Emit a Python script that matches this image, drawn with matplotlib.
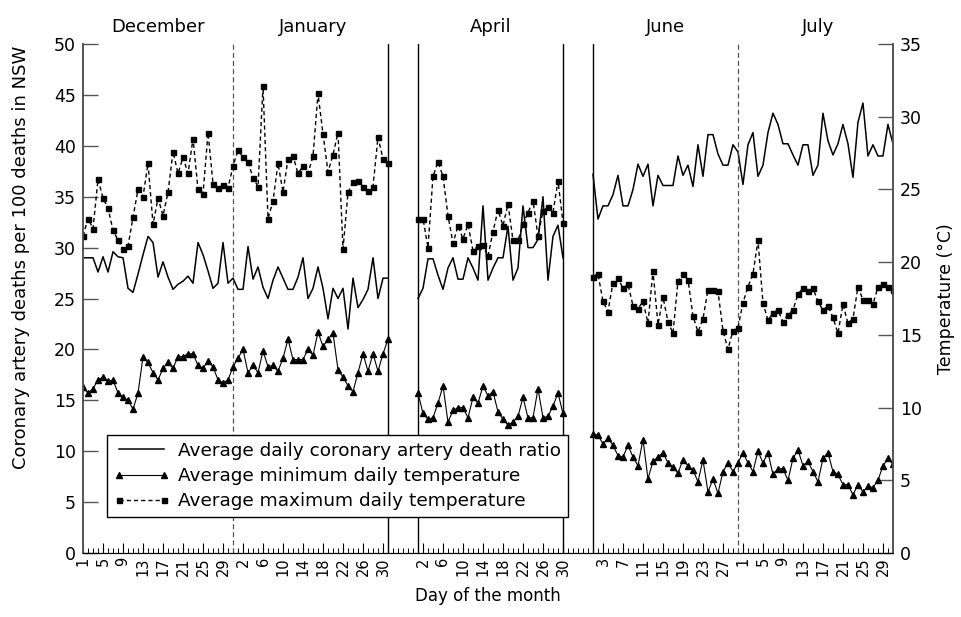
import numpy as np
import matplotlib.pyplot as plt
from matplotlib.lines import Line2D

plt.rcParams['font.family'] = ['DejaVu Sans']

months = ['December', 'January', 'April', 'June', 'July']
month_days = [31, 31, 30, 30, 31]
# where day 1 of each month sits on the shared day axis
month_start = [0, 31, 67, 102, 132]
# label days under each month
tick_days = [
    list(range(1, 30, 4)),
    list(range(2, 31, 4)),
    list(range(2, 31, 4)),
    list(range(3, 28, 4)),
    list(range(1, 30, 4)),
]

# coronary artery deaths per 100 deaths (left axis)
ratio_dec_jan = [29.0, 29.0, 29.0, 27.6, 29.1, 27.6, 29.6, 29.1, 29.0, 26.0,
                 25.6, 27.4, 29.3, 31.1, 30.5, 27.1, 28.6, 27.1, 25.9, 26.4,
                 26.7, 27.2, 26.5, 30.5, 29.3, 27.7, 26.0, 26.5, 30.5, 26.5,
                 27.0, 25.9, 25.9, 30.1, 26.9, 28.1, 26.1, 25.0, 26.8, 28.1,
                 27.0, 25.9, 25.9, 27.1, 29.0, 25.0, 26.0, 28.1, 26.0, 23.0,
                 26.0, 25.0, 26.0, 22.0, 27.0, 24.1, 24.9, 25.9, 29.0, 25.0,
                 27.0, 27.0]
ratio_apr = [25.0, 26.0, 28.9, 28.9, 27.3, 25.9, 28.0, 29.0, 26.9, 26.9,
             29.0, 28.0, 26.8, 34.1, 26.8, 28.0, 29.0, 29.0, 32.1, 26.8,
             28.0, 34.1, 30.0, 30.0, 30.8, 35.0, 26.8, 31.1, 32.2, 29.0]
ratio_jun_jul = [37.2, 32.8, 34.1, 34.1, 35.2, 37.1, 34.1, 34.1, 35.7, 38.2,
                 37.0, 38.2, 34.1, 37.1, 36.1, 36.1, 36.1, 39.0, 37.1, 38.1,
                 36.0, 40.1, 37.0, 41.1, 41.1, 39.2, 38.1, 38.1, 40.1, 39.4,
                 36.2, 40.1, 41.3, 37.0, 38.1, 41.3, 43.2, 42.1, 40.2, 40.2,
                 39.1, 38.1, 40.1, 40.1, 37.1, 38.1, 43.2, 40.5, 39.1, 40.2,
                 42.1, 40.2, 36.9, 42.3, 44.2, 39.0, 40.1, 39.0, 39.0, 42.1,
                 40.2]

# average minimum daily temperature, deg C (right axis)
tmin_dec_jan = [11.4, 11.0, 11.3, 11.9, 12.1, 11.8, 11.9, 11.0, 10.7, 10.5,
                9.9, 11.0, 13.5, 13.1, 12.4, 11.9, 12.7, 13.1, 12.7, 13.5,
                13.5, 13.7, 13.7, 12.9, 12.7, 13.2, 12.8, 11.9, 11.7, 11.9,
                12.8, 13.4, 14.0, 12.4, 12.9, 12.4, 13.9, 12.8, 12.9, 12.5,
                13.4, 14.7, 13.3, 13.3, 13.3, 14.0, 13.6, 15.2, 14.2, 14.7,
                15.1, 12.6, 12.1, 11.5, 11.1, 12.4, 13.7, 12.5, 13.7, 12.5,
                13.7, 14.7]
tmin_apr = [11.0, 9.6, 9.2, 9.3, 10.3, 11.5, 9.0, 9.8, 10.0, 10.0,
            9.3, 10.7, 10.3, 11.5, 10.8, 11.1, 9.7, 9.2, 8.8, 9.0,
            9.4, 10.7, 9.3, 9.3, 11.3, 9.3, 9.4, 10.1, 11.0, 9.6]
tmin_jun_jul = [8.2, 8.1, 7.5, 7.9, 7.4, 6.7, 6.6, 7.4, 6.6, 6.0,
                7.8, 5.1, 6.3, 6.6, 6.9, 6.2, 5.9, 5.5, 6.4, 6.0,
                5.7, 4.9, 6.4, 4.2, 5.1, 4.1, 5.6, 6.2, 5.6, 6.2,
                6.9, 6.2, 5.6, 7.0, 6.2, 6.9, 5.4, 5.8, 5.8, 5.0,
                6.5, 7.1, 6.0, 6.3, 5.6, 4.9, 6.5, 6.9, 5.6, 5.4,
                4.7, 4.7, 4.0, 4.7, 4.2, 4.6, 4.5, 5.0, 6.0, 6.5,
                6.1]

# average maximum daily temperature, deg C (right axis)
tmax_dec_jan = [21.8, 23.0, 22.3, 25.7, 24.4, 23.7, 22.2, 21.5, 20.9, 21.1,
                23.1, 25.0, 24.5, 26.8, 22.6, 24.4, 23.2, 24.8, 27.6, 26.1,
                27.2, 26.1, 28.5, 25.0, 24.7, 28.9, 25.4, 25.1, 25.3, 25.1,
                26.6, 27.7, 27.2, 26.9, 25.8, 25.2, 32.1, 23.0, 24.2, 26.8,
                24.8, 27.1, 27.3, 26.1, 26.6, 26.1, 27.3, 31.6, 28.8, 26.2,
                27.4, 28.9, 20.9, 24.8, 25.5, 25.6, 25.2, 24.9, 25.2, 28.6,
                27.1, 26.8]
tmax_apr = [23.0, 23.0, 21.0, 25.9, 26.9, 25.9, 23.2, 21.3, 22.5, 21.6,
            22.6, 20.8, 21.1, 21.2, 20.4, 22.1, 23.6, 22.5, 24.0, 21.5,
            21.5, 22.6, 23.4, 24.2, 21.8, 23.5, 23.8, 23.4, 25.6, 22.7]
tmax_jun_jul = [19.0, 19.2, 17.3, 16.6, 18.6, 18.9, 18.2, 18.5, 17.0, 16.8,
                17.3, 15.8, 19.4, 15.7, 17.6, 15.9, 15.1, 18.7, 19.2, 18.8,
                16.3, 15.2, 16.1, 18.1, 18.1, 18.0, 15.3, 14.0, 15.3, 15.5,
                17.2, 18.3, 19.2, 21.5, 17.2, 16.0, 16.5, 16.7, 15.9, 16.4,
                16.7, 17.8, 18.2, 18.0, 18.2, 17.3, 16.7, 17.0, 16.2, 15.1,
                17.1, 15.8, 16.1, 18.3, 17.4, 17.4, 17.1, 18.3, 18.5, 18.3,
                18.1]

# months joined by one continuous line
blocks = [([0, 1], ratio_dec_jan, tmin_dec_jan, tmax_dec_jan),
          ([2], ratio_apr, tmin_apr, tmax_apr),
          ([3, 4], ratio_jun_jul, tmin_jun_jul, tmax_jun_jul)]

fig = plt.figure(figsize=(9.61, 6.17), dpi=100)
ax = fig.add_axes([0.0864, 0.1037, 0.8428, 0.825])
ax2 = ax.twinx()

for mlist, ratio, tmin, tmax in blocks:
    x = np.concatenate([month_start[m] + np.arange(month_days[m]) for m in mlist])
    ax.plot(x, ratio, color='black', lw=1.1)
    ax2.plot(x, tmin, color='black', lw=0.8, marker='^', ms=4.5)
    ax2.plot(x, tmax, color='black', lw=1.0, ls=(0, (3, 2.2)), marker='s', ms=3.6)

# month boundaries
for m in [0, 3]:
    ax.axvline(month_start[m] + month_days[m] - 1, color='#555555', lw=0.9, ls=(0, (4, 2.5)))
for xv in [month_start[1] + month_days[1] - 1, month_start[2],
           month_start[2] + month_days[2] - 1, month_start[3]]:
    ax.axvline(xv, color='black', lw=1.0)

xmax = month_start[4] + month_days[4] - 1
ax.set_xlim(0, xmax)
ax.set_ylim(0, 50)
ax2.set_ylim(0, 35)

major = [month_start[m] + d - 1 for m in range(5) for d in tick_days[m]]
labels = [str(d) for m in range(5) for d in tick_days[m]]
ax.set_xticks(major)
ax.set_xticklabels(labels, rotation=90, fontsize=10.5)
ax.set_xticks(np.arange(0, xmax + 1), minor=True)
ax.tick_params(axis='x', which='major', direction='in', length=7, width=0.8, pad=3)
ax.tick_params(axis='x', which='minor', direction='in', length=3.5, width=0.7)

ax.set_yticks(np.arange(0, 51, 5))
ax.tick_params(axis='y', direction='in', length=11, width=1, colors='#555555',
               labelcolor='black', labelsize=12.5, pad=5)
ax2.set_yticks(np.arange(0, 36, 5))
ax2.tick_params(axis='y', direction='in', length=11, width=1, colors='#555555',
                labelcolor='black', labelsize=12.5, pad=5)

for a in (ax, ax2):
    a.spines['top'].set_visible(False)
    a.spines['left'].set_color('#555555')
    a.spines['right'].set_color('#555555')
    a.spines['left'].set_linewidth(1.2)
    a.spines['right'].set_linewidth(1.2)

for m in range(5):
    xc = month_start[m] + (month_days[m] - 1) / 2
    ax.text(xc, 1.033, months[m], transform=ax.get_xaxis_transform(),
            ha='center', va='center', fontsize=13)

ax.set_xlabel('Day of the month', fontsize=12, labelpad=8)
ax.set_ylabel('Coronary artery deaths per 100 deaths in NSW', fontsize=13)
ax.yaxis.set_label_coords(-0.066, 0.58)
ax2.set_ylabel('Temperature (°C)', fontsize=12.5, labelpad=11)

handles = [
    Line2D([], [], color='black', lw=1.1),
    Line2D([], [], color='black', lw=0.8, marker='^', ms=4.5),
    Line2D([], [], color='black', lw=1.0, ls=(0, (3, 2.2)), marker='s', ms=3.6),
]
leg = ax2.legend(handles, ['Average daily coronary artery death ratio',
                           'Average minimum daily temperature',
                           'Average maximum daily temperature'],
                 loc='lower left', bbox_to_anchor=(0.0296, 0.0707),
                 fontsize=13.3, frameon=True, fancybox=False, framealpha=1,
                 edgecolor='black', borderaxespad=0, handlelength=3.0,
                 handletextpad=0.5, labelspacing=0.4, borderpad=0.36,
                 numpoints=2)
leg.get_frame().set_linewidth(1.0)

fig.savefig('out.png', dpi=100)
